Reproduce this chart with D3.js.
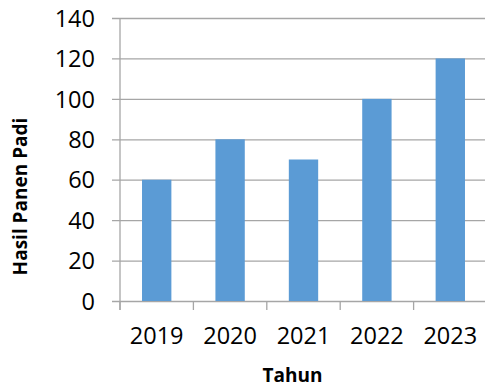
<!DOCTYPE html>
<html>
<head>
<meta charset="utf-8">
<script src="https://cdn.jsdelivr.net/npm/d3@7"></script>
<style>
  html, body { margin: 0; padding: 0; background: #fff; }
  svg { display: block; }
</style>
</head>
<body>
<svg id="chart" width="485" height="387"></svg>
<script>
const categories = ["2019", "2020", "2021", "2022", "2023"];
const values = [60, 80, 70, 100, 120];
const yTicks = [0, 20, 40, 60, 80, 100, 120, 140];
const xTitle = "Tahun";
const yTitle = "Hasil Panen Padi";

const mLeft = 120, mRight = 487, mTop = 18, mBottom = 301;
const font = "'Open Sans', sans-serif";
const svg = d3.select("#chart");

const x = d3.scaleBand().domain(categories).range([mLeft, mRight]).paddingInner(0.6).paddingOuter(0.3);
const y = d3.scaleLinear().domain([0, 140]).range([mBottom, mTop]);

// gridlines
const yAxis = d3.axisLeft(y).tickValues(yTicks).tickSize(-(mRight - mLeft)).tickSizeOuter(0);
const gy = svg.append("g").attr("transform", `translate(${mLeft},0)`).call(yAxis);
gy.select(".domain").remove();
gy.selectAll(".tick line").attr("stroke", "#a6a6a6").attr("stroke-width", 1.3).attr("x1", -8);
gy.selectAll(".tick text").attr("font-family", font).attr("font-size", 23.5).attr("fill", "#000").attr("dy", "0.35em").attr("x", -25);

// y axis line
svg.append("line").attr("x1", mLeft).attr("x2", mLeft).attr("y1", mTop).attr("y2", mBottom + 9)
  .attr("stroke", "#a6a6a6").attr("stroke-width", 1.3);

// bars
svg.append("g").selectAll("rect").data(categories).join("rect")
  .attr("x", d => x(d))
  .attr("width", x.bandwidth())
  .attr("y", (d, i) => y(values[i]))
  .attr("height", (d, i) => y(0) - y(values[i]))
  .attr("fill", "#5b9bd5");

// x axis ticks between categories
const xTickPos = d3.range(categories.length + 1).map(i => mLeft + i * (mRight - mLeft) / categories.length);
svg.append("g").selectAll("line").data(xTickPos).join("line")
  .attr("x1", d => d).attr("x2", d => d).attr("y1", mBottom).attr("y2", mBottom + 9)
  .attr("stroke", "#a6a6a6").attr("stroke-width", 1.3);

// x labels
svg.append("g").selectAll("text").data(categories).join("text")
  .attr("x", d => x(d) + x.bandwidth() / 2)
  .attr("y", 344)
  .attr("text-anchor", "middle")
  .attr("font-family", font).attr("font-size", 23.5).attr("fill", "#000")
  .text(d => d);

// titles
svg.append("text").attr("x", 292.5).attr("y", 382)
  .attr("text-anchor", "middle").attr("font-family", font).attr("font-weight", "bold")
  .attr("font-size", 19).attr("fill", "#000").text(xTitle);

svg.append("text").attr("transform", `translate(27,196.5) rotate(-90)`)
  .attr("text-anchor", "middle").attr("font-family", font).attr("font-weight", "bold")
  .attr("font-size", 19).attr("fill", "#000").text(yTitle);
</script>
</body>
</html>
